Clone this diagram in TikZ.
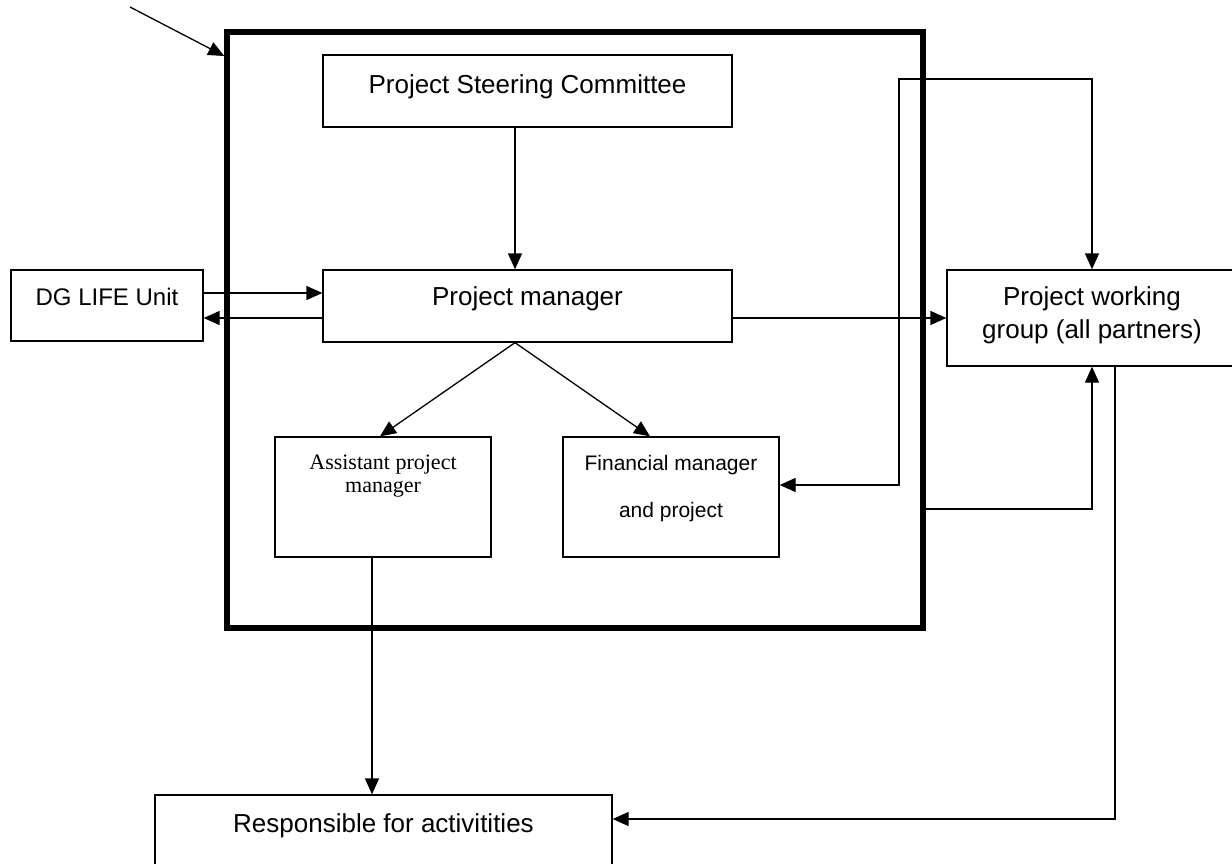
\documentclass[tikz,border=0pt]{standalone}
\usepackage{fontspec}
\setmainfont{Liberation Sans}
\newfontfamily\timesf{Liberation Serif}
\usetikzlibrary{arrows.meta,calc}
\begin{document}
\begin{tikzpicture}[x=1pt,y=-1pt,
  box/.style n args={2}{draw,line width=1.3pt,minimum width=#1,minimum height=#2,inner sep=0pt,rectangle},
  bigbox/.style={draw,line width=5.5pt,minimum width=696pt,minimum height=596pt,inner sep=0pt,rectangle},
  txt/.style={inner sep=0pt,anchor=base,font=\fontsize{26}{30}\selectfont},
  conn/.style={line width=1.3pt,-{Triangle[length=16pt,width=14pt]}},
  conn2/.style={line width=1.3pt,{Triangle[length=16pt,width=14pt]}-{Triangle[length=16pt,width=14pt]}},
  plain/.style={line width=1.3pt}]
\path[use as bounding box] (0,0) rectangle (1232,864);
\fill[white] (0,0) rectangle (1232,864);
\clip (0,0) rectangle (1232,864);

% boxes
\node[bigbox] (big) at (575,330) {};
\node[box={409pt}{72pt}] (psc) at (527.5,91) {};
\node[box={409pt}{72pt}] (pm) at (527.5,306) {};
\node[box={192pt}{71pt}] (dg) at (107,305.5) {};
\node[box={290pt}{96pt}] (pwg) at (1092,318) {};
\node[box={216pt}{120pt}] (apm) at (383,497) {};
\node[box={216pt}{120pt}] (fm) at (671,497) {};
\node[box={457pt}{110pt}] (resp) at (383.5,850) {};

% texts
\node[txt] (psct) at (527.5,94) {Project Steering Committee};
\node[txt] (pmt) at (527.5,305) {Project manager};
\node[txt,font=\fontsize{24}{28}\selectfont] (dgt) at (107,305) {DG LIFE Unit};
\node[txt] (pwgt1) at (1092,305) {Project working};
\node[txt] (pwgt2) at (1092,338) {group (all partners)};
\node[txt,font=\timesf\fontsize{22}{25}\selectfont] (apmt1) at (383,469) {Assistant project};
\node[txt,font=\timesf\fontsize{22}{25}\selectfont] (apmt2) at (383,492) {manager};
\node[txt,font=\fontsize{21}{25}\selectfont] (fmt1) at (671,470) {Financial manager};
\node[txt,font=\fontsize{21}{25}\selectfont] (fmt2) at (671,517) {and project};
\node[txt] (respt) at (383.5,832) {Responsible for activitities};

% helper coordinates
\coordinate (start) at (130,7);
\coordinate (ya) at (0,56);
\coordinate (xs) at (515,0);
\coordinate (xa) at (380,0);
\coordinate (xf) at (650,0);
\coordinate (xr) at (372,0);
\coordinate (xd) at (1115,0);
\coordinate (xu) at (1092,0);
\coordinate (xl) at (899,0);
\coordinate (y1) at (0,293);
\coordinate (y2) at (0,318);
\coordinate (yb) at (0,509);
\coordinate (yf) at (0,485);
\coordinate (yt) at (0,79);
\coordinate (yr) at (0,819);

% connectors
\draw[conn] (start) -- (big.west |- ya);
\draw[conn] (psc.south -| xs) -- (pm.north -| xs);
\draw[conn] (dg.east |- y1) -- (pm.west |- y1);
\draw[conn] (pm.west |- y2) -- (dg.east |- y2);
\draw[conn] (pm.east |- y2) -- (pwg.west |- y2);
\draw[conn] (pm.south -| xs) -- (apm.north -| xa);
\draw[conn] (pm.south -| xs) -- (fm.north -| xf);
\draw[conn] (apm.south -| xr) -- (resp.north -| xr);
\draw[conn] (pwg.south -| xd) -- (xd |- yr) -- (resp.east |- yr);
\draw[conn] (big.east |- yb) -- (xu |- yb) -- (pwg.south -| xu);
\draw[conn2] (fm.east |- yf) -- (xl |- yf) -- (xl |- yt) -- (xu |- yt) -- (pwg.north -| xu);
\end{tikzpicture}
\end{document}
